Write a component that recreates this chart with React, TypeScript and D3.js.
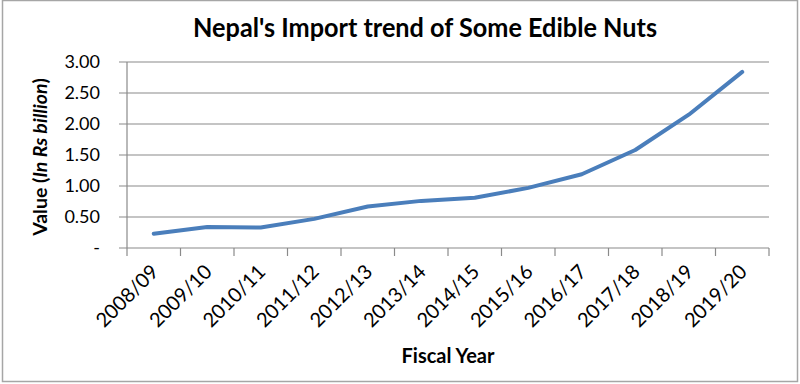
import * as d3 from "d3";
import React from "react";

const years = [
  "2008/09", "2009/10", "2010/11", "2011/12", "2012/13", "2013/14",
  "2014/15", "2015/16", "2016/17", "2017/18", "2018/19", "2019/20",
];
const importValue = [0.23, 0.34, 0.33, 0.47, 0.67, 0.76, 0.81, 0.97, 1.19, 1.58, 2.15, 2.84];
const yTicks = [0, 0.5, 1, 1.5, 2, 2.5, 3];

const width = 800;
const height = 384;
const margin = { top: 62, right: 31, bottom: 136, left: 127 };
const bodyWidth = width - margin.left - margin.right;
const bodyHeight = height - margin.top - margin.bottom;

const font = "Lato, 'Open Sans', sans-serif";
const gridColor = "#8a8a8a";

const App = () => {
  const xScale = d3.scaleBand().domain(years).range([0, bodyWidth]);
  const yScale = d3.scaleLinear().domain([0, 3]).range([bodyHeight, 0]);

  const line = d3
    .line<number>()
    .x((_, i) => (xScale(years[i]) as number) + xScale.bandwidth() / 2)
    .y((d) => yScale(d));

  const tickFmt = (v: number) => (v === 0 ? "-" : d3.format(".2f")(v));
  const xTicks = years.map((_, i) => i * xScale.step()).concat([bodyWidth]);

  return (
    <svg
      width={width}
      height={height}
      style={{ position: "absolute", left: 0, top: 0, background: "#fff" }}
      fontFamily={font}
    >
      <rect x={2.5} y={0.5} width={795} height={381} fill="#fff" stroke="#a6a6a6" strokeWidth={1.5} />

      <text
        x={425}
        y={37}
        textAnchor="middle"
        fontWeight="bold"
        fontSize={26}
        textLength={464}
        lengthAdjust="spacingAndGlyphs"
        fill="#000"
      >
        Nepal's Import trend of Some Edible Nuts
      </text>

      <g transform={`translate(${margin.left},${margin.top})`}>
        {/* grid + y ticks */}
        {yTicks.map((t) => (
          <g key={t} transform={`translate(0,${yScale(t)})`}>
            <line x1={-8} x2={bodyWidth} stroke={gridColor} strokeWidth={1.2} />
            <text x={-27} y={6} textAnchor="end" fontSize={18} fill="#000">
              {tickFmt(t)}
            </text>
          </g>
        ))}
        <line x1={0} x2={0} y1={0} y2={bodyHeight} stroke={gridColor} strokeWidth={1.2} />

        {/* x ticks */}
        {xTicks.map((x, i) => (
          <line key={i} x1={x} x2={x} y1={bodyHeight} y2={bodyHeight + 8} stroke={gridColor} strokeWidth={1.2} />
        ))}
        {years.map((y) => (
          <text
            key={y}
            transform={`translate(${(xScale(y) as number) + xScale.bandwidth() / 2 + 6},${bodyHeight + 25}) rotate(-45)`}
            textAnchor="end"
            fontSize={20}
            fill="#000"
          >
            {y}
          </text>
        ))}

        <path
          d={line(importValue) as string}
          fill="none"
          stroke="#4a7ebb"
          strokeWidth={4}
          strokeLinejoin="round"
          strokeLinecap="round"
        />
      </g>

      <text
        transform={`translate(47,157) rotate(-90)`}
        textAnchor="middle"
        fontWeight="bold"
        fontSize={19.5}
        fill="#000"
      >
        Value (<tspan fontStyle="italic">In Rs billion</tspan>)
      </text>

      <text x={448} y={363} textAnchor="middle" fontWeight="bold" fontSize={20} fill="#000">
        Fiscal Year
      </text>
    </svg>
  );
};

export default App;
